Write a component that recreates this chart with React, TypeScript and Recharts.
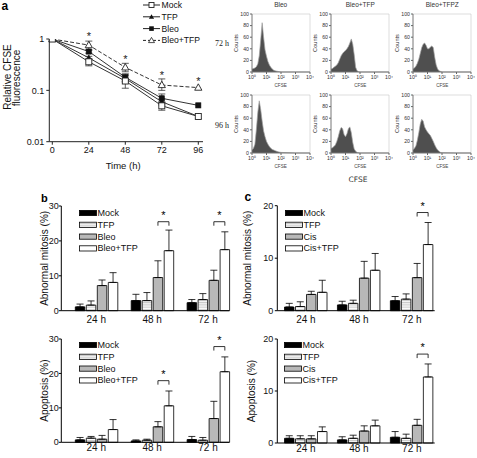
import React from 'react';
import {
  LineChart, Line, XAxis, YAxis, ErrorBar, ReferenceDot, Legend,
  AreaChart, Area, ReferenceLine, ComposedChart, Bar, LabelList,
} from 'recharts';

const SANS = '"Liberation Sans", Arial, Helvetica, sans-serif';
const INK = '#111';

// ---------- Panel a: CFSE dilution (log scale) ----------
const hours = [0, 24, 48, 72, 96];
const hourTicks = [0, 24, 48, 72, 96];
const cfseTicks = [0.01, 0.1, 1];
const cfseMock = [1, 0.36, 0.152, 0.05, 0.031];
const cfseTFP = [1, 0.43, 0.17, 0.06, 0.031];
const cfseBleo = [1, 0.57, 0.18, 0.07, 0.051];
const cfseBleoTFP = [1, 0.76, 0.28, 0.127, 0.113];
const cfseMockErr = [null, [0.06, 0.05], [0.042, 0.04], [0.009, 0.008], null];
const cfseTFPErr = [null, [0.03, 0.03], [0.025, 0.03], [0.008, 0.008], null];
const cfseBleoErr = [null, [0.04, 0.04], [0.03, 0.03], [0.01, 0.015], null];
const cfseBleoTFPErr = [null, [0.15, 0.15], [0.05, 0.056], [0.027, 0.04], null];
const cfseStarLevel = [null, 1.2, 0.44, 0.215, 0.166];
const cfseNames = ['Mock', 'TFP', 'Bleo', 'Bleo+TFP'];

// ---------- Panel a: CFSE histograms ----------
const histLogCFSE = [0, 0.1, 0.2, 0.3, 0.4, 0.5, 0.6, 0.7, 0.8, 0.9, 1.0, 1.1, 1.2, 1.3, 1.4, 1.5, 1.6, 1.7, 1.8, 1.9, 2.0, 3.0, 4.0];
const h72Bleo = [5, 6, 7, 9, 14, 28, 55, 85, 60, 38, 27, 18, 12, 8, 5, 3, 2, 1.5, 1, 0.5, 0, 0, 0];
const h72BleoTFP = [5, 6, 8, 10, 12, 16, 22, 28, 32, 35, 37, 40, 44, 50, 57, 48, 30, 8, 2, 0.5, 0, 0, 0];
const h72BleoTFPZ = [5, 7, 10, 15, 22, 32, 42, 48, 50, 46, 40, 40, 43, 45, 42, 25, 12, 5, 2, 1, 0, 0, 0];
const h96Bleo = [5, 8, 15, 40, 70, 90, 75, 55, 38, 28, 20, 15, 11, 8, 6, 5, 4, 3, 2, 1.5, 1, 0, 0];
const h96BleoTFP = [8, 9, 11, 14, 20, 28, 38, 44, 42, 32, 28, 33, 42, 45, 35, 18, 7, 3, 1, 0.5, 0, 0, 0];
const h96BleoTFPZ = [5, 8, 12, 22, 35, 50, 58, 55, 45, 40, 36, 33, 30, 25, 20, 14, 9, 5, 3, 1, 0.5, 0, 0];
const histTitles = ['Bleo', 'Bleo+TFP', 'Bleo+TFPZ'];
const histTimes = ['72 h', '96 h'];
const histCountTicks = [0, 20, 40, 60, 80, 100];
const histDecadeTicks = [0, 1, 2, 3, 4];
const histDecadeLabels = ['10⁰', '10¹', '10²', '10³', '10⁴'];

// ---------- Panels b and c: grouped bars ----------
const timeLabels = ['24 h', '48 h', '72 h'];

const bMitMock = [1.1, 2.9, 2.3];
const bMitMockErr = [0.8, 1.8, 0.9];
const bMitTFP = [1.6, 2.9, 3.2];
const bMitTFPErr = [1.2, 2.3, 1.7];
const bMitBleo = [7.2, 9.5, 8.7];
const bMitBleoErr = [1.6, 4.8, 2.9];
const bMitCombo = [8.1, 17.2, 17.5];
const bMitComboErr = [2.8, 5.9, 5.1];
const bMitSig = [null, 25.5, 25.5];

const bApoMock = [0.7, 0.4, 0.8];
const bApoMockErr = [0.7, 0.3, 0.9];
const bApoTFP = [1.2, 0.6, 0.6];
const bApoTFPErr = [0.5, 0.3, 0.8];
const bApoBleo = [0.9, 4.5, 6.9];
const bApoBleoErr = [1.1, 1.5, 5.0];
const bApoCombo = [3.7, 10.6, 20.5];
const bApoComboErr = [2.9, 4.3, 4.3];
const bApoSig = [null, 17.9, 27.8];

const cMitMock = [0.7, 1.1, 1.9];
const cMitMockErr = [0.7, 0.7, 0.8];
const cMitTFP = [0.8, 1.4, 2.2];
const cMitTFPErr = [0.9, 0.6, 1.0];
const cMitCis = [3.1, 6.2, 6.3];
const cMitCisErr = [0.6, 3.2, 2.7];
const cMitCombo = [3.5, 7.7, 12.6];
const cMitComboErr = [2.3, 3.2, 4.2];
const cMitSig = [null, null, 18.7];

const cApoMock = [0.9, 0.6, 1.1];
const cApoMockErr = [0.5, 0.6, 1.1];
const cApoTFP = [0.8, 0.9, 0.9];
const cApoTFPErr = [0.6, 0.6, 0.8];
const cApoCis = [0.8, 2.3, 3.4];
const cApoCisErr = [0.6, 1.0, 1.15];
const cApoCombo = [2.2, 3.3, 12.7];
const cApoComboErr = [0.9, 1.1, 2.5];
const cApoSig = [null, null, 17.1];

const bNames = ['Mock', 'TFP', 'Bleo', 'Bleo+TFP'];
const cNames = ['Mock', 'TFP', 'Cis', 'Cis+TFP'];
const ticks30 = [0, 10, 20, 30];
const ticks20 = [0, 10, 20];

// ---------- shared drawing helpers ----------
const BAR = 9.5;
const GAP = 1.5;

const openSquare = (p: any) =>
  p.cx == null ? null : (
    <rect key={`os${p.index}`} x={p.cx - 3} y={p.cy - 3} width={6} height={6} fill="#fff" stroke="#222" strokeWidth={0.9} />
  );
const filledSquare = (p: any) =>
  p.cx == null ? null : (
    <rect key={`fs${p.index}`} x={p.cx - 2.6} y={p.cy - 2.6} width={5.2} height={5.2} fill="#111" stroke="#111" strokeWidth={0.6} />
  );
const filledTri = (p: any) =>
  p.cx == null ? null : (
    <path key={`ft${p.index}`} d={`M${p.cx},${p.cy - 3}L${p.cx + 3},${p.cy + 2.3}L${p.cx - 3},${p.cy + 2.3}Z`} fill="#111" stroke="#111" strokeWidth={0.5} />
  );
const openTri = (p: any) =>
  p.cx == null ? null : (
    <path key={`ot${p.index}`} d={`M${p.cx},${p.cy - 3.8}L${p.cx + 3.6},${p.cy + 2.6}L${p.cx - 3.6},${p.cy + 2.6}Z`} fill="#fff" stroke="#222" strokeWidth={0.9} />
  );

const CfseLegend = () => {
  const rows = [
    { dash: undefined, m: 'os' },
    { dash: undefined, m: 'ft' },
    { dash: undefined, m: 'fs' },
    { dash: '3 2', m: 'ot' },
  ];
  return (
    <svg width={75} height={48} style={{ display: 'block', overflow: 'visible' }}>
      {rows.map((r, i) => {
        const cy = 5 + i * 11.8;
        const cx = 8.5;
        let mk: any = null;
        if (r.m === 'os') mk = <rect x={cx - 2.5} y={cy - 2.5} width={5} height={5} fill="#fff" stroke="#222" strokeWidth={0.9} />;
        if (r.m === 'fs') mk = <rect x={cx - 2.3} y={cy - 2.3} width={4.6} height={4.6} fill="#111" />;
        if (r.m === 'ft') mk = <path d={`M${cx},${cy - 2.6}L${cx + 2.6},${cy + 2}L${cx - 2.6},${cy + 2}Z`} fill="#111" />;
        if (r.m === 'ot') mk = <path d={`M${cx},${cy - 3}L${cx + 3},${cy + 2.2}L${cx - 3},${cy + 2.2}Z`} fill="#fff" stroke="#222" strokeWidth={0.8} />;
        return (
          <g key={i}>
            <line x1={0} y1={cy} x2={17} y2={cy} stroke="#222" strokeWidth={1} strokeDasharray={r.dash} />
            {mk}
            <text x={18.5} y={cy} dominantBaseline="central" fontSize={8.6} fontFamily={SANS} fill={INK}>{cfseNames[i]}</text>
          </g>
        );
      })}
    </svg>
  );
};

const CfsePanel = () => {
  const rows = hours.map((t, i) => ({
    t,
    mock: cfseMock[i], tfp: cfseTFP[i], bleo: cfseBleo[i], combo: cfseBleoTFP[i],
    mockErr: cfseMockErr[i], tfpErr: cfseTFPErr[i], bleoErr: cfseBleoErr[i], comboErr: cfseBleoTFPErr[i],
  }));
  const yLabel = () => (
    <g>
      <text transform="translate(7,77) rotate(-90)" textAnchor="middle" dominantBaseline="central" fontSize={10} fontFamily={SANS} fill={INK}>Relative CFSE</text>
      <text transform="translate(16.5,78) rotate(-90)" textAnchor="middle" dominantBaseline="central" fontSize={10} fontFamily={SANS} fill={INK}>fluorescence</text>
    </g>
  );
  const xLabel = (p: any) => {
    const vb = p.viewBox || {};
    return (
      <text x={(vb.x ?? 49) + (vb.width ?? 154) / 2 - 3} y={(vb.y ?? 142) + 24} textAnchor="middle" dominantBaseline="central" fontSize={9.5} fontFamily={SANS} fill={INK}>Time (h)</text>
    );
  };
  const star = (p: any) => (
    <text x={p.cx} y={p.cy + 5.5} textAnchor="middle" fontSize={11} fontFamily={SANS} fill="#222">*</text>
  );
  return (
    <div style={{ position: 'absolute', left: 0, top: 0 }}>
      <LineChart width={215} height={175} data={rows} margin={{ top: 39, right: 12, left: 9.3, bottom: 3.3 }}>
        <XAxis dataKey="t" type="number" domain={[0, 96]} ticks={hourTicks} interval={0} padding={{ left: 3, right: 4.7 }}
          height={30} tickSize={3} tickMargin={2} axisLine={{ stroke: '#222' }} tickLine={{ stroke: '#222' }}
          tick={{ fontSize: 9, fill: INK, fontFamily: SANS }} label={xLabel} />
        <YAxis scale="log" domain={[0.01, 1]} ticks={cfseTicks} interval={0} allowDataOverflow width={40}
          tickSize={3} tickMargin={2} axisLine={{ stroke: '#222' }} tickLine={{ stroke: '#222' }}
          tick={{ fontSize: 9, fill: INK, fontFamily: SANS }} label={yLabel} />
        <Legend layout="horizontal" verticalAlign="middle" align="center" content={() => <CfseLegend />}
          wrapperStyle={{ left: 143, top: 0, width: 75 }} />
        <Line dataKey="combo" stroke="#333" strokeWidth={1} strokeDasharray="4 2" dot={openTri} isAnimationActive={false}>
          <ErrorBar dataKey="comboErr" width={3.5} stroke="#333" strokeWidth={0.8} direction="y" />
        </Line>
        <Line dataKey="bleo" stroke="#333" strokeWidth={1} dot={filledSquare} isAnimationActive={false}>
          <ErrorBar dataKey="bleoErr" width={3.5} stroke="#333" strokeWidth={0.8} direction="y" />
        </Line>
        <Line dataKey="tfp" stroke="#333" strokeWidth={1} dot={filledTri} isAnimationActive={false}>
          <ErrorBar dataKey="tfpErr" width={3.5} stroke="#333" strokeWidth={0.8} direction="y" />
        </Line>
        <Line dataKey="mock" stroke="#333" strokeWidth={1} dot={openSquare} isAnimationActive={false}>
          <ErrorBar dataKey="mockErr" width={3.5} stroke="#333" strokeWidth={0.8} direction="y" />
        </Line>
        {hours.map((t, i) =>
          cfseStarLevel[i] == null ? null : (
            <ReferenceDot key={`st${i}`} x={t} y={cfseStarLevel[i] as number} r={3} ifOverflow="visible" shape={star} />
          ),
        )}
      </LineChart>
    </div>
  );
};

const decadeFormatter = (v: number) => histDecadeLabels[histDecadeTicks.indexOf(v)] ?? '';

const HIST_W = 58;
const HIST_H = 58;

const Histogram = ({ counts, plotLeft, plotTop }: any) => {
  const data = histLogCFSE.map((x, i) => ({ x, c: counts[i] }));
  return (
    <>
      <div style={{ position: 'absolute', left: plotLeft - 22, top: plotTop - 12 }}>
        <AreaChart width={HIST_W + 26} height={HIST_H + 32} data={data} margin={{ top: 12, right: 4, left: 2, bottom: 0 }}>
          <XAxis dataKey="x" type="number" domain={[0, 4]} ticks={histDecadeTicks} interval={0} height={20}
            tickSize={2} tickMargin={1} axisLine={{ stroke: '#777' }} tickFormatter={decadeFormatter}
            tick={{ fontSize: 5.2, fill: '#333', fontFamily: SANS }} />
          <YAxis domain={[0, 100]} ticks={histCountTicks} interval={0} width={20} tickSize={2} tickMargin={1}
            axisLine={{ stroke: '#777' }} tick={{ fontSize: 5.2, fill: '#333', fontFamily: SANS }} />
          <Area dataKey="c" type="linear" fill="#4f4f4f" fillOpacity={1} stroke="#a0a0a0" strokeWidth={0.7} isAnimationActive={false} />
          <ReferenceLine y={100} stroke="#c8c8c8" strokeWidth={0.6} ifOverflow="visible" />
          <ReferenceLine x={4} stroke="#c8c8c8" strokeWidth={0.6} ifOverflow="visible" />
        </AreaChart>
      </div>
      <div style={{ position: 'absolute', left: plotLeft - 16 - 20, top: plotTop + HIST_H / 2 - 4, width: 40, height: 8, textAlign: 'center', fontSize: 5.6, lineHeight: '8px', color: '#333', fontFamily: SANS, transform: 'rotate(-90deg)' }}>Counts</div>
      <div style={{ position: 'absolute', left: plotLeft, top: plotTop + HIST_H + 11, width: HIST_W, textAlign: 'center', fontSize: 4.6, lineHeight: '6px', color: '#444', fontFamily: SANS }}>CFSE</div>
    </>
  );
};

const groupFills = (pid: string) => ['#000', `url(#${pid})`, '#b8b8b8', '#fff'];

const Stripes = ({ id }: any) => (
  <pattern id={id} width={4} height={2.2} patternUnits="userSpaceOnUse">
    <rect width={4} height={2.2} fill="#fff" />
    <line x1={0} y1={0.6} x2={4} y2={0.6} stroke="#9a9a9a" strokeWidth={0.7} />
  </pattern>
);

const BarLegend = ({ names, pid }: any) => {
  const lid = `${pid}L`;
  const fills = groupFills(lid);
  return (
    <svg width={90} height={48} style={{ display: 'block', overflow: 'visible' }}>
      <defs><Stripes id={lid} /></defs>
      {names.map((n: string, i: number) => {
        const cy = 3 + i * 11.8;
        return (
          <g key={n}>
            <rect x={0.5} y={cy - 2.6} width={17} height={5.2} fill={fills[i]} stroke="#000" strokeWidth={0.8} />
            <text x={18.5} y={cy} dominantBaseline="central" fontSize={9} fontFamily={SANS} fill={INK}>{n}</text>
          </g>
        );
      })}
    </svg>
  );
};

const GroupedBars = (props: any) => {
  const { left, top, width, height, margin, padding, yMax, yTicks, names, legendAt, yLabel, yLabelX, xTickMargin, yTickMargin, pid,
    s1, e1, s2, e2, s3, e3, s4, e4, sig } = props;
  const rows = timeLabels.map((t, i) => ({
    t, s1: s1[i], s2: s2[i], s3: s3[i], s4: s4[i],
    e1: [0, e1[i]], e2: [0, e2[i]], e3: [0, e3[i]], e4: [0, e4[i]],
  }));
  const fills = groupFills(pid);
  const yLab = (p: any) => {
    const vb = p.viewBox || {};
    const cy = (vb.y ?? 10) + (vb.height ?? 100) / 2;
    return (
      <text transform={`translate(${yLabelX},${cy}) rotate(-90)`} textAnchor="middle" dominantBaseline="central" fontSize={10} fontFamily={SANS} fill={INK}>{yLabel}</text>
    );
  };
  const sigMark = (p: any) => {
    const vb = p.viewBox || p;
    const idx = p.index;
    const lvl = sig[idx];
    if (lvl == null) return null;
    const x = Number(vb.x ?? p.x);
    const y = Number(vb.y ?? p.y);
    const w = Number(vb.width ?? p.width);
    const h = Math.abs(Number(vb.height ?? p.height));
    const val = s4[idx];
    const base = y + h;
    const by = base - (lvl * h) / val;
    const l = x - GAP - w / 2;
    const r = x + w / 2;
    return (
      <g key={`sig${idx}`}>
        <path d={`M${l},${by + 4}V${by}H${r}V${by + 4}`} fill="none" stroke="#000" strokeWidth={0.8} />
        <text x={(l + r) / 2} y={by - 3} textAnchor="middle" fontSize={11} fontFamily={SANS} fill="#000">*</text>
      </g>
    );
  };
  const keys = ['s1', 's2', 's3', 's4'];
  const errs = ['e1', 'e2', 'e3', 'e4'];
  return (
    <div style={{ position: 'absolute', left, top }}>
      <ComposedChart width={width} height={height} data={rows} margin={margin} barGap={GAP}>
        <defs><Stripes id={pid} /></defs>
        <XAxis dataKey="t" type="category" padding={padding} height={height - margin.top - margin.bottom - (yMax.px)}
          tickLine={false} tickMargin={xTickMargin} tickSize={0} axisLine={{ stroke: '#000' }}
          tick={{ fontSize: 10, fill: INK, fontFamily: SANS }} interval={0} />
        <YAxis domain={[0, yMax.v]} ticks={yTicks} interval={0} width={30} tickSize={2.5} tickMargin={yTickMargin}
          axisLine={{ stroke: '#000' }} tickLine={{ stroke: '#000' }} tick={{ fontSize: 9, fill: INK, fontFamily: SANS }}
          label={yLab} />
        <Legend layout="horizontal" verticalAlign="middle" align="center" content={() => <BarLegend names={names} pid={pid} />}
          wrapperStyle={{ left: legendAt[0], top: legendAt[1], width: 90 }} />
        {keys.map((k, i) => (
          <Bar key={k} dataKey={k} barSize={BAR} fill={fills[i]} stroke="#000" strokeWidth={0.8} isAnimationActive={false}>
            <ErrorBar dataKey={errs[i]} width={3.5} stroke="#000" strokeWidth={0.8} direction="y" />
            {i === 3 ? <LabelList dataKey={k} content={sigMark} /> : null}
          </Bar>
        ))}
      </ComposedChart>
    </div>
  );
};

const panelLetter = (t: string, x: number, y: number, size: number) => (
  <div style={{ position: 'absolute', left: x, top: y, fontFamily: SANS, fontWeight: 700, fontSize: size, lineHeight: 1, color: '#000' }}>{t}</div>
);

export default function App() {
  const histCols = [251.7, 331.3, 413.3];
  const histRows = [14.3, 95];
  const histData = [[h72Bleo, h72BleoTFP, h72BleoTFPZ], [h96Bleo, h96BleoTFP, h96BleoTFPZ]];
  return (
    <div style={{ position: 'absolute', left: 0, top: 0, width: 477, height: 458, background: '#fff', overflow: 'hidden', fontFamily: SANS }}>
      {panelLetter('a', 1.5, 0, 12)}
      {panelLetter('b', 41, 193, 11)}
      {panelLetter('c', 244.5, 191, 12)}
      <CfsePanel />
      {histTitles.map((t, j) => (
        <div key={t} style={{ position: 'absolute', left: histCols[j] - 20, width: 98, top: 2, textAlign: 'center', fontSize: 6.5, color: '#333', fontFamily: SANS, lineHeight: 1 }}>{t}</div>
      ))}
      {histTimes.map((t, r) => (
        <div key={t} style={{ position: 'absolute', left: 215, top: [39.5, 122][r], fontSize: 8, color: '#222', fontFamily: '"Liberation Serif", serif', lineHeight: 1 }}>{t}</div>
      ))}
      {histData.map((row, r) => row.map((counts, j) => (
        <Histogram key={`h${r}${j}`} counts={counts} plotLeft={histCols[j]} plotTop={histRows[r]} />
      )))}
      <div style={{ position: 'absolute', left: 338, width: 40, top: 175.5, textAlign: 'center', fontSize: 7.5, color: '#333', fontFamily: '"DejaVu Sans", sans-serif', lineHeight: 1 }}>CFSE</div>

      <GroupedBars left={0} top={190} width={240} height={135} margin={{ top: 16, right: 10.7, left: 31.3, bottom: 0 }}
        padding={{ left: 7, right: -6.7 }} yMax={{ v: 30, px: 104.7 }} yTicks={ticks30} names={bNames} legendAt={[79.3, 20.3]}
        yLabel="Abnormal mitosis (%)" yLabelX={44} xTickMargin={5.5} yTickMargin={0} pid="stripeB1"
        s1={bMitMock} e1={bMitMockErr} s2={bMitTFP} e2={bMitTFPErr} s3={bMitBleo} e3={bMitBleoErr} s4={bMitCombo} e4={bMitComboErr} sig={bMitSig} />
      <GroupedBars left={0} top={330} width={240} height={128} margin={{ top: 9, right: 10.7, left: 31.3, bottom: 0 }}
        padding={{ left: 7, right: -6.7 }} yMax={{ v: 30, px: 103.3 }} yTicks={ticks30} names={bNames} legendAt={[79.3, 12]}
        yLabel="Apoptosis (%)" yLabelX={44} xTickMargin={2} yTickMargin={0} pid="stripeB2"
        s1={bApoMock} e1={bApoMockErr} s2={bApoTFP} e2={bApoTFPErr} s3={bApoBleo} e3={bApoBleoErr} s4={bApoCombo} e4={bApoComboErr} sig={bApoSig} />
      <GroupedBars left={238} top={190} width={239} height={135} margin={{ top: 15.7, right: 42.3, left: 9.3, bottom: 0 }}
        padding={{ left: 2.2, right: -3.6 }} yMax={{ v: 20, px: 105 }} yTicks={ticks20} names={cNames} legendAt={[46.7, 20.3]}
        yLabel="Abnormal mitosis (%)" yLabelX={9.5} xTickMargin={5.5} yTickMargin={1.5} pid="stripeC1"
        s1={cMitMock} e1={cMitMockErr} s2={cMitTFP} e2={cMitTFPErr} s3={cMitCis} e3={cMitCisErr} s4={cMitCombo} e4={cMitComboErr} sig={cMitSig} />
      <GroupedBars left={238} top={330} width={239} height={128} margin={{ top: 9, right: 42.3, left: 9.3, bottom: 0 }}
        padding={{ left: 2.2, right: -3.6 }} yMax={{ v: 20, px: 104 }} yTicks={ticks20} names={cNames} legendAt={[46, 12]}
        yLabel="Apoptosis (%)" yLabelX={13} xTickMargin={2} yTickMargin={1.5} pid="stripeC2"
        s1={cApoMock} e1={cApoMockErr} s2={cApoTFP} e2={cApoTFPErr} s3={cApoCis} e3={cApoCisErr} s4={cApoCombo} e4={cApoComboErr} sig={cApoSig} />
    </div>
  );
}
